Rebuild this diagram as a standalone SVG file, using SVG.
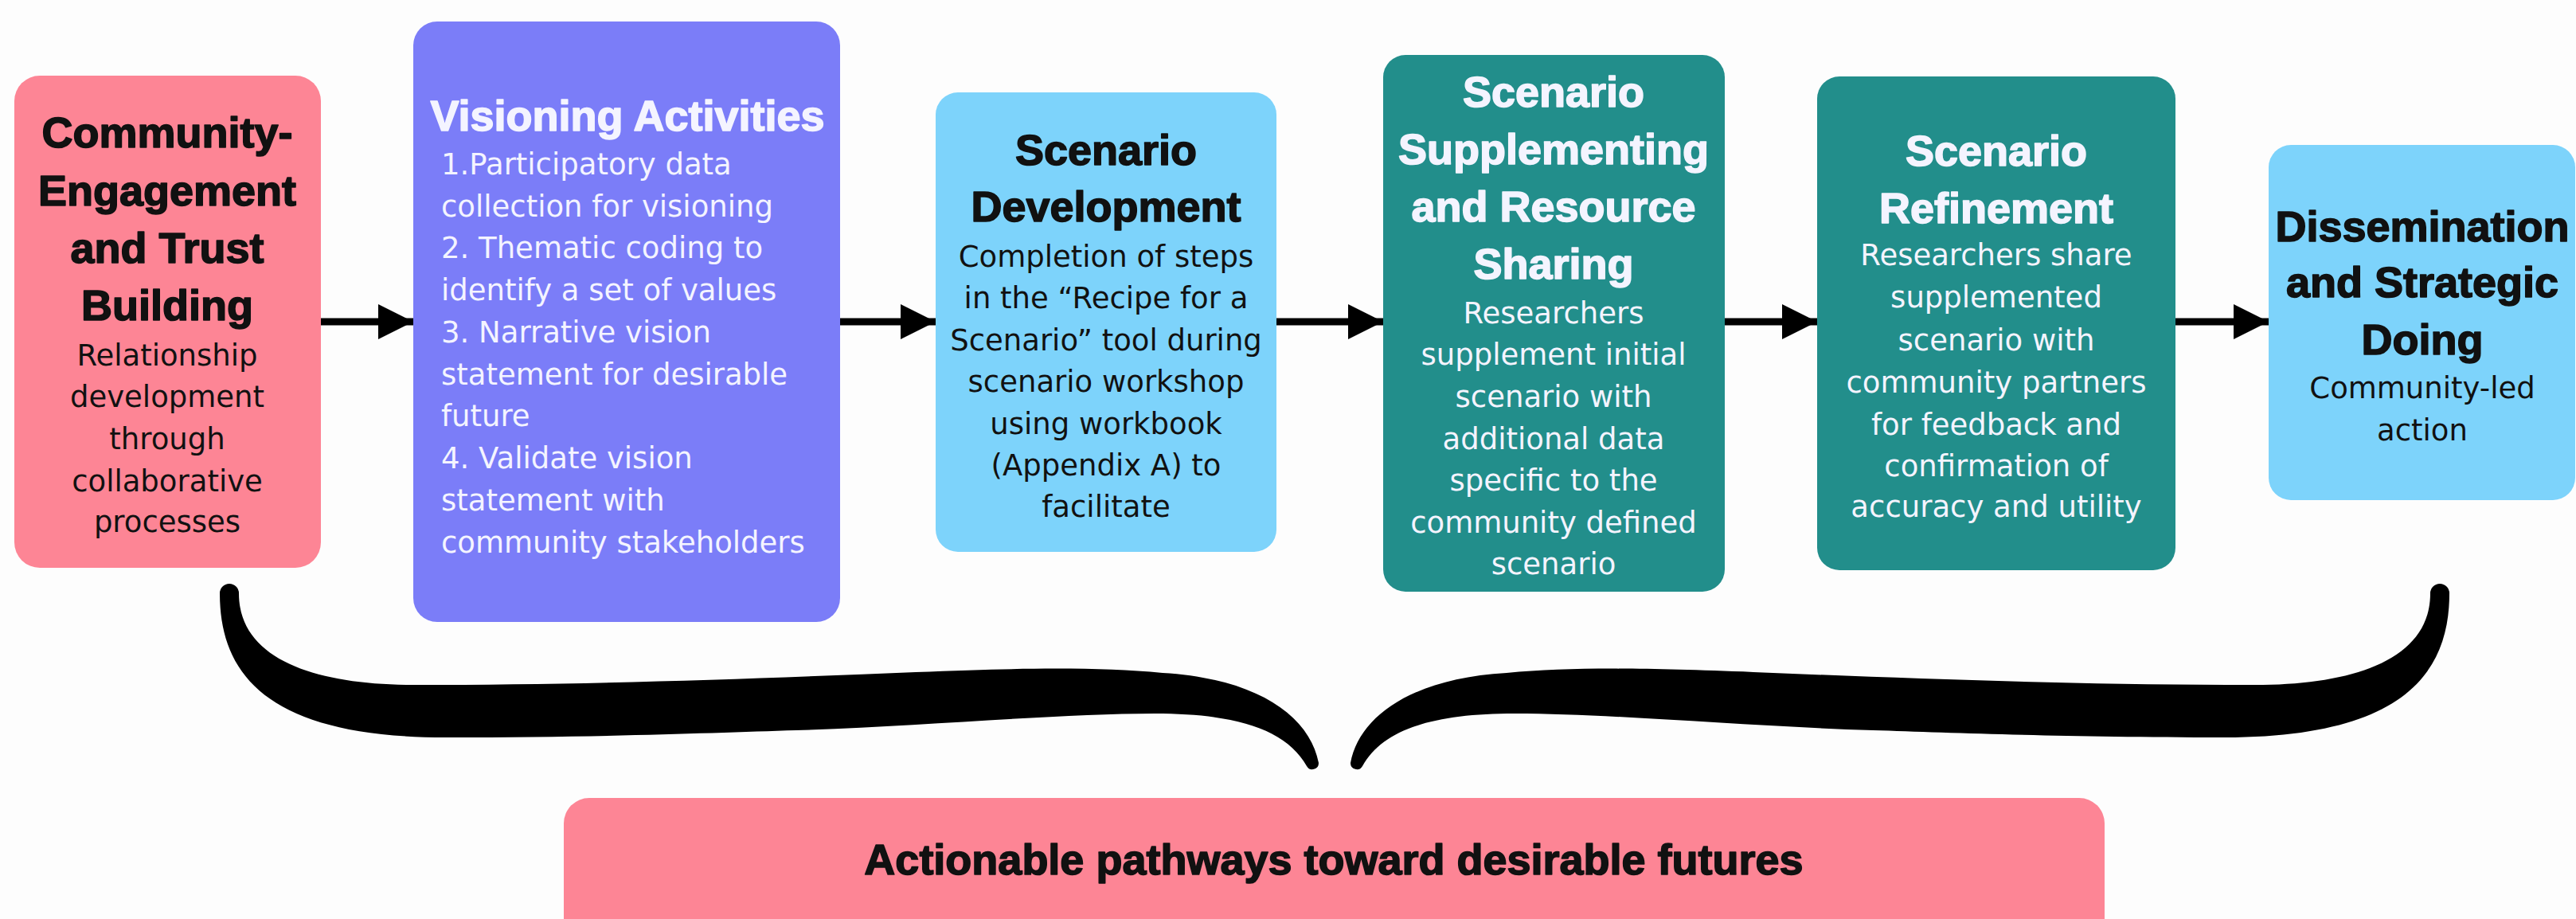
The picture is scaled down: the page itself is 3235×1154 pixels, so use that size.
<svg xmlns="http://www.w3.org/2000/svg" width="3235" height="1154" viewBox="0 0 3235 1154">
<style>
.pink{fill:#FD8595}
.purple{fill:#7B7DF8}
.sky{fill:#7DD3FB}
.teal{fill:#228E8B}
.h{font-family:"Liberation Sans",Arial,sans-serif;font-weight:bold;font-size:54px;text-anchor:middle;stroke-width:1.6;stroke-linejoin:round}
.b{font-family:"DejaVu Sans",sans-serif;font-size:37px;text-anchor:middle}
.bl{font-family:"DejaVu Sans",sans-serif;font-size:37px}
.dk{fill:#111111}
.h.dk{stroke:#111111}
.wt{fill:#F4F4FF}
.h.wt{stroke:#F4F4FF}
.conn{stroke:#000;stroke-width:9;fill:none}
</style>
<defs>
<marker id="ah" markerUnits="userSpaceOnUse" markerWidth="46" markerHeight="48" refX="44" refY="24" orient="auto">
<path d="M0,2 L44,24 L0,46 Z" fill="#000"/>
</marker>
<path id="braceHalf" d="M276,745 C276,850 340,926 560,926 C760,926 900,920 1000,917 C1160,912 1330,896 1450,896 C1550,896 1615,915 1641,962 A8,8 0 0 0 1656,958 C1645,900 1580,852 1460,845 C1380,838 1300,838 1150,844 C950,852 750,860 520,860 C400,860 300,830 300,745 A12,12 0 0 0 276,745 Z"/>
</defs>
<rect width="3235" height="1154" fill="#FDFDFD"/>

<g id="connectors">
<line class="conn" x1="403" y1="404" x2="519" y2="404" marker-end="url(#ah)"/>
<line class="conn" x1="1055" y1="404" x2="1175" y2="404" marker-end="url(#ah)"/>
<line class="conn" x1="1603" y1="404" x2="1737" y2="404" marker-end="url(#ah)"/>
<line class="conn" x1="2166" y1="404" x2="2282" y2="404" marker-end="url(#ah)"/>
<line class="conn" x1="2732" y1="404" x2="2849" y2="404" marker-end="url(#ah)"/>
</g>

<g id="brace" fill="#000">
<use href="#braceHalf"/>
<use href="#braceHalf" transform="translate(3352,0) scale(-1,1)"/>
</g>

<g id="community-engagement">
<rect class="pink" x="18" y="95" width="385" height="618" rx="32"/>
<text class="h dk" x="210" y="185">Community-</text>
<text class="h dk" x="210" y="258">Engagement</text>
<text class="h dk" x="210" y="330">and Trust</text>
<text class="h dk" x="210" y="402">Building</text>
<text class="b dk" x="210" y="459">Relationship</text>
<text class="b dk" x="210" y="511">development</text>
<text class="b dk" x="210" y="564">through</text>
<text class="b dk" x="210" y="617">collaborative</text>
<text class="b dk" x="210" y="668">processes</text>
</g>

<g id="visioning-activities">
<rect class="purple" x="519" y="27" width="536" height="754" rx="30"/>
<text class="h wt" x="788" y="164">Visioning Activities</text>
<text class="bl wt" x="554" y="219">1.Participatory data</text>
<text class="bl wt" x="554" y="272">collection for visioning</text>
<text class="bl wt" x="554" y="324">2. Thematic coding to</text>
<text class="bl wt" x="554" y="377">identify a set of values</text>
<text class="bl wt" x="554" y="430">3. Narrative vision</text>
<text class="bl wt" x="554" y="483">statement for desirable</text>
<text class="bl wt" x="554" y="535">future</text>
<text class="bl wt" x="554" y="588">4. Validate vision</text>
<text class="bl wt" x="554" y="641">statement with</text>
<text class="bl wt" x="554" y="694">community stakeholders</text>
</g>

<g id="scenario-development">
<rect class="sky" x="1175" y="116" width="428" height="577" rx="28"/>
<text class="h dk" x="1389" y="207">Scenario</text>
<text class="h dk" x="1389" y="278">Development</text>
<text class="b dk" x="1389" y="335">Completion of steps</text>
<text class="b dk" x="1389" y="387">in the “Recipe for a</text>
<text class="b dk" x="1389" y="440">Scenario” tool during</text>
<text class="b dk" x="1389" y="492">scenario workshop</text>
<text class="b dk" x="1389" y="545">using workbook</text>
<text class="b dk" x="1389" y="597">(Appendix A) to</text>
<text class="b dk" x="1389" y="649">facilitate</text>
</g>

<g id="scenario-supplementing">
<rect class="teal" x="1737" y="69" width="429" height="674" rx="28"/>
<text class="h wt" x="1951" y="134">Scenario</text>
<text class="h wt" x="1951" y="206">Supplementing</text>
<text class="h wt" x="1951" y="278">and Resource</text>
<text class="h wt" x="1951" y="350">Sharing</text>
<text class="b wt" x="1951" y="406">Researchers</text>
<text class="b wt" x="1951" y="458">supplement initial</text>
<text class="b wt" x="1951" y="511">scenario with</text>
<text class="b wt" x="1951" y="564">additional data</text>
<text class="b wt" x="1951" y="616">specific to the</text>
<text class="b wt" x="1951" y="669">community defined</text>
<text class="b wt" x="1951" y="721">scenario</text>
</g>

<g id="scenario-refinement">
<rect class="teal" x="2282" y="96" width="450" height="620" rx="28"/>
<text class="h wt" x="2507" y="208">Scenario</text>
<text class="h wt" x="2507" y="280">Refinement</text>
<text class="b wt" x="2507" y="333">Researchers share</text>
<text class="b wt" x="2507" y="386">supplemented</text>
<text class="b wt" x="2507" y="440">scenario with</text>
<text class="b wt" x="2507" y="493">community partners</text>
<text class="b wt" x="2507" y="546">for feedback and</text>
<text class="b wt" x="2507" y="598">confirmation of</text>
<text class="b wt" x="2507" y="649">accuracy and utility</text>
</g>

<g id="dissemination">
<rect class="sky" x="2849" y="182" width="385" height="446" rx="28"/>
<text class="h dk" x="3042" y="303">Dissemination</text>
<text class="h dk" x="3042" y="373">and Strategic</text>
<text class="h dk" x="3042" y="445">Doing</text>
<text class="b dk" x="3042" y="500">Community-led</text>
<text class="b dk" x="3042" y="553">action</text>
</g>

<g id="actionable-pathways">
<rect class="pink" x="708" y="1002" width="1935" height="200" rx="32"/>
<text class="h dk" x="1675" y="1098" font-size="53">Actionable pathways toward desirable futures</text>
</g>
</svg>
